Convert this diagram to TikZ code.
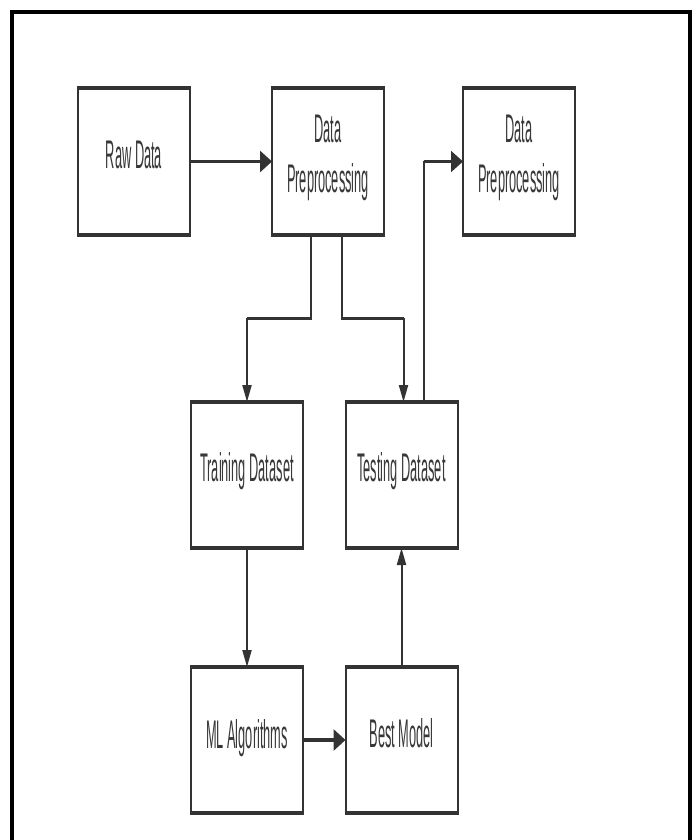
\documentclass[tikz,border=0pt]{standalone}
\usepackage{fontspec}
\setmainfont{Liberation Sans}
\usetikzlibrary{arrows.meta}
\definecolor{ink}{HTML}{333333}
\definecolor{txt}{HTML}{383838}
\newcommand\narrowtxt[1]{\scalebox{0.32}[1]{#1}}
\newcommand\boxlines[1]{%
  \draw[sideline] (#1.north west) -- (#1.south west) (#1.north east) -- (#1.south east);
  \draw[capline] ([xshift=-1pt]#1.north west) -- ([xshift=1pt]#1.north east)
                 ([xshift=-1pt]#1.south west) -- ([xshift=1pt]#1.south east);}
\begin{document}
\begin{tikzpicture}[x=1pt,y=-1pt,
  boxnode/.style={minimum width=112pt, minimum height=146pt, inner sep=0pt, outer sep=0pt},
  sideline/.style={draw=ink, line width=2pt},
  capline/.style={draw=ink, line width=4pt},
  lbl/.style={text=txt, font=\fontsize{40}{50}\selectfont, inner sep=0pt},
  vconn/.style={draw=ink, line width=2pt, -{Triangle[length=17pt, width=9pt]}},
  hconn/.style={draw=ink, line width=3.5pt, -{Triangle[length=12pt, width=21pt]}},
  hseg/.style={draw=ink, line width=3pt},
  frameline/.style={draw=black, line width=4pt, line join=miter}]
\useasboundingbox (0,0) rectangle (697,840);
\fill[white] (0,0) rectangle (697,840);
\draw[frameline] (12,850) -- (12,12) -- (690,12) -- (690,850);

% boxes
\node[boxnode] (raw)   at (134,161.5) {};
\node[boxnode] (dp1)   at (328,161.5) {};
\node[boxnode] (dp2)   at (519,161.5) {};
\node[boxnode] (train) at (247,475) {};
\node[boxnode] (test)  at (401.5,475) {};
\node[boxnode] (ml)    at (247,740) {};
\node[boxnode] (best)  at (401.5,740) {};
\foreach \b in {raw,dp1,dp2,train,test,ml,best} {\boxlines{\b}}

% labels
\node[lbl, anchor=base] (rawt) at ([yshift=-7pt]raw.center) {\narrowtxt{Raw Data}};
\node[lbl, align=center] (dp1t) at ([yshift=3.6pt]dp1.center) {\narrowtxt{Data}\\\narrowtxt{Preprocessing}};
\node[lbl, align=center] (dp2t) at ([yshift=3.6pt]dp2.center) {\narrowtxt{Data}\\\narrowtxt{Preprocessing}};
\node[lbl, anchor=base] (traint) at ([yshift=-6.5pt]train.center) {\narrowtxt{Training Dataset}};
\node[lbl, anchor=base] (testt) at ([yshift=-6.5pt]test.center) {\narrowtxt{Testing Dataset}};
\node[lbl, anchor=base] (mlt) at ([yshift=-8pt]ml.center) {\narrowtxt{ML Algorithms}};
\node[lbl, anchor=base] (bestt) at ([yshift=-7.5pt]best.center) {\narrowtxt{Best Model}};

% connectors
\draw[hconn] (raw.east) -- (dp1.west);
\draw[vconn] ([xshift=-17pt]dp1.south) -- ++(0,84) coordinate (s1) -| (train.north);
\draw[hseg] (s1) -- (train.north |- s1);
\draw[vconn] ([xshift=14pt]dp1.south) -- ++(0,84) coordinate (s2) -| ([xshift=2pt]test.north);
\draw[hseg] (s2) -- ([xshift=2pt]test.north |- s2);
\draw[vconn, -{Triangle[length=12pt, width=21pt]}] ([xshift=22pt]test.north) |- (dp2.west);
\draw[hseg] ([xshift=22pt]test.north |- dp2.west) -- ([xshift=-10pt]dp2.west);
\draw[vconn] (train.south) -- (ml.north);
\draw[hconn] (ml.east) -- (best.west);
\draw[vconn] (best.north) -- (test.south);
\end{tikzpicture}
\end{document}
